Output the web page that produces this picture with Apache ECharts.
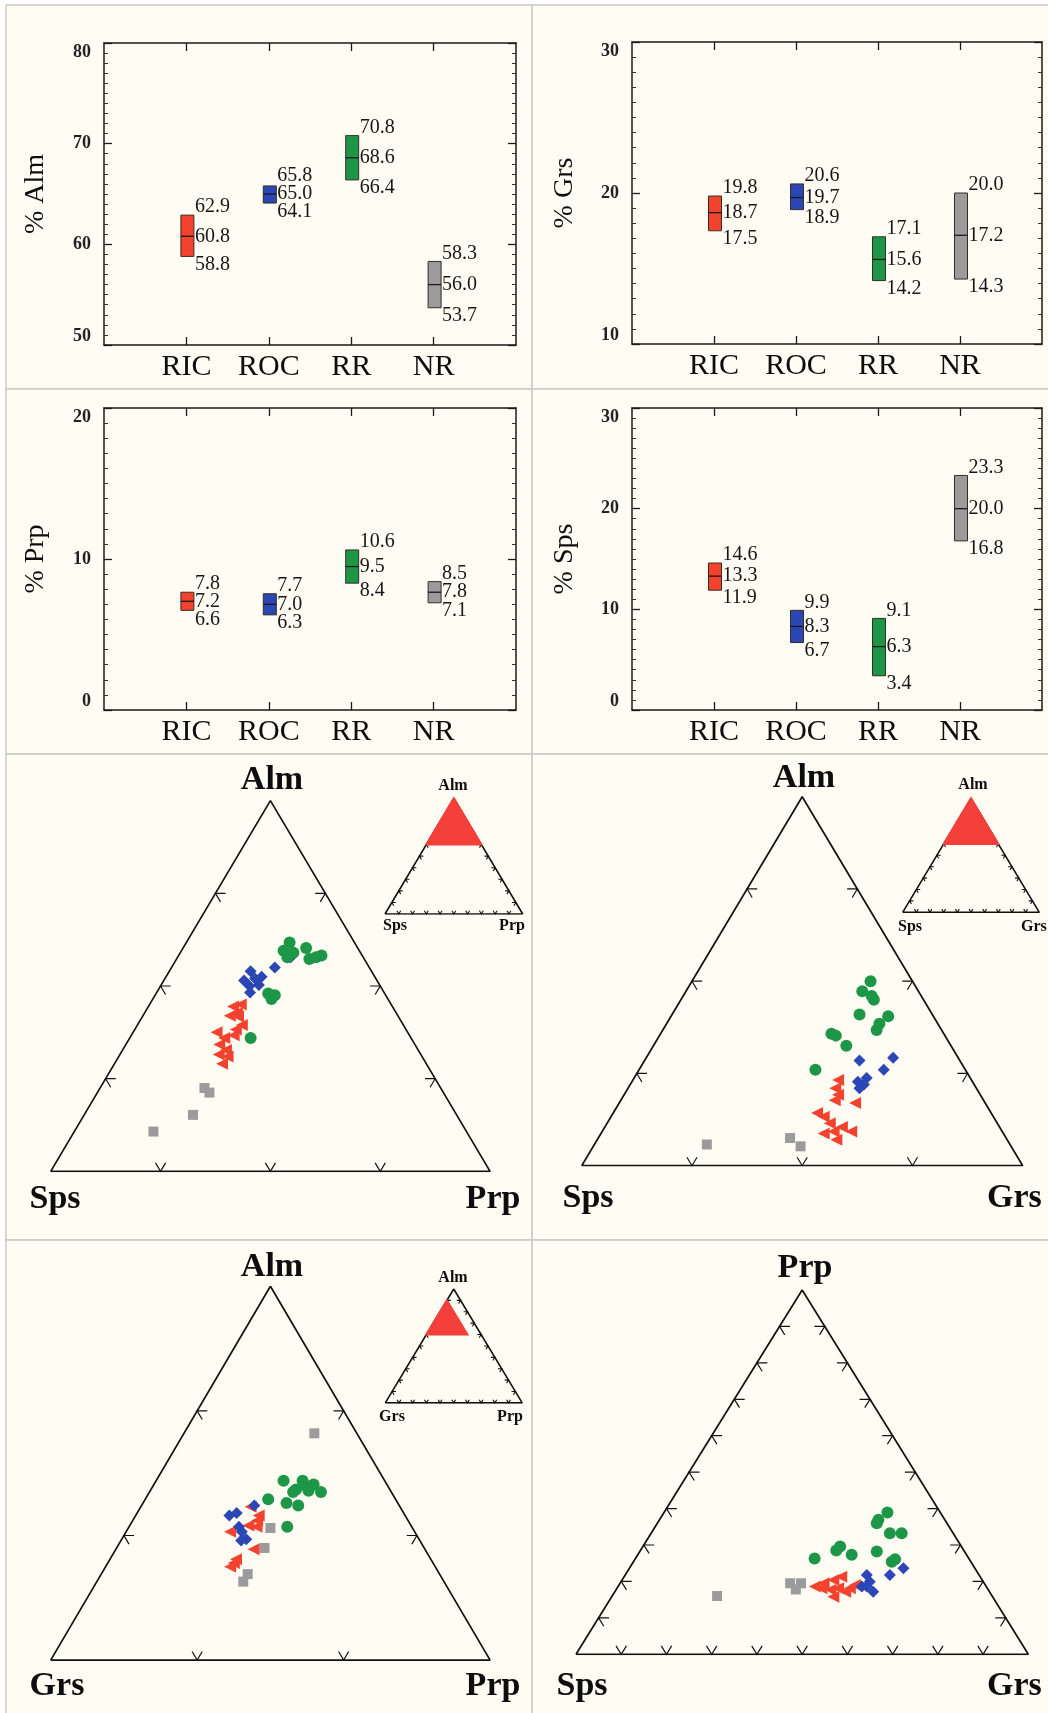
<!DOCTYPE html>
<html>
<head>
<meta charset="utf-8">
<title>Garnet end-members</title>
<style>
  html, body { margin: 0; padding: 0; background: #fff; }
  #main { width: 1048px; height: 1713px; }
</style>
</head>
<body>
<div id="main"></div>
<script src="https://cdn.jsdelivr.net/npm/echarts@6/dist/echarts.min.js"></script>
<script>
// groups and their styles
var groups = ['RIC', 'ROC', 'RR', 'NR'];
var groupColors = ['#f3432f', '#2b46b5', '#1d9747', '#9b9b9b'];
var groupSymbols = ['triangle', 'diamond', 'circle', 'rect'];
var groupSymbolRotate = [90, 0, 0, 0];
var groupSymbolSize = [12, 12, 12, 10];

// box plots : [min, median, max] per group
var almStats = [[58.8, 60.8, 62.9], [64.1, 65.0, 65.8], [66.4, 68.6, 70.8], [53.7, 56.0, 58.3]];
var grsStats = [[17.5, 18.7, 19.8], [18.9, 19.7, 20.6], [14.2, 15.6, 17.1], [14.3, 17.2, 20.0]];
var prpStats = [[6.6, 7.2, 7.8], [6.3, 7.0, 7.7], [8.4, 9.5, 10.6], [7.1, 7.8, 8.5]];
var spsStats = [[11.9, 13.3, 14.6], [6.7, 8.3, 9.9], [3.4, 6.3, 9.1], [16.8, 20.0, 23.3]];

// ternary Alm - Sps - Prp  [Alm, Sps, Prp]
var aspRIC = [[77.8,14.5,7.7],[78.0,13.7,8.3],[77.1,14.5,8.4],[76.8,15.3,7.9],[75.8,14.7,9.5],[75.3,15.5,9.2],[75.0,17.4,7.6],[74.4,17.0,8.6],[74.7,16.0,9.3],[73.7,17.8,8.5],[73.1,17.5,9.4],[72.6,18.4,9.0],[72.4,17.7,9.9],[71.6,18.6,9.8],[76.7,14.6,8.7]];
var aspROC = [[81.6,11.0,7.4],[80.6,12.1,7.3],[80.8,11.0,8.2],[81.0,10.3,8.7],[80.0,11.9,8.1],[80.1,11.0,8.9],[79.3,12.2,8.5],[82.0,8.6,9.4],[83.1,6.6,10.3]];
var aspRR = [[84.7,5.9,9.4],[83.8,6.9,9.3],[83.1,6.9,10.0],[83.6,6.1,10.3],[84.1,4.7,11.2],[82.9,5.0,12.1],[83.1,4.3,12.6],[83.3,3.7,13.0],[79.2,10.6,10.2],[79.0,10.1,10.9],[78.6,10.6,10.8],[74.4,14.6,11.0]];
var aspNR = [[69.0,21.5,9.5],[68.5,21.3,10.2],[66.1,24.0,9.9],[64.3,28.5,7.2]];

// ternary Alm - Sps - Grs  [Alm, Sps, Grs]
var asgRIC = [[69.3,12.1,18.6],[68.4,12.8,18.8],[67.7,12.9,19.4],[67.1,13.5,19.4],[66.8,11.8,21.4],[65.7,15.8,18.5],[65.3,15.4,19.3],[64.6,15.2,20.2],[63.5,16.3,20.2],[63.7,15.3,21.0],[63.7,13.7,22.6],[62.8,15.5,21.7],[64.2,14.3,21.5]];
var asgROC = [[71.4,9.1,19.5],[71.7,5.9,22.4],[70.4,7.4,22.2],[69.5,9.4,21.1],[69.1,10.4,20.5],[68.8,10.0,21.2],[68.4,10.6,21.0]];
var asgRR = [[80.0,3.8,16.2],[78.9,5.1,16.0],[78.4,4.5,17.1],[78.0,4.5,17.5],[76.4,6.6,17.0],[76.2,4.1,19.7],[75.4,5.3,19.3],[74.7,5.9,19.4],[74.3,10.2,15.5],[74.1,9.9,16.0],[73.0,9.5,17.5],[70.4,13.6,16.0]];
var asgNR = [[62.3,27.5,10.2],[63.0,19.6,17.4],[62.1,19.1,18.8]];

// ternary Alm - Grs - Prp  [Alm, Grs, Prp]
var agpRIC = [[72.3,20.2,7.5],[71.6,20.0,8.4],[70.7,20.6,8.7],[70.3,22.6,7.1],[70.8,21.1,8.1],[68.9,21.7,9.4],[68.1,23.3,8.6],[67.5,24.0,8.5],[67.8,23.6,8.6],[71.2,20.3,8.5]];
var agpROC = [[72.4,19.9,7.7],[71.8,21.4,6.8],[71.6,22.0,6.4],[70.7,21.8,7.5],[70.3,21.8,7.9],[69.7,21.8,8.5],[69.6,22.2,8.2]];
var agpRR = [[74.4,16.9,8.7],[74.4,15.6,10.0],[73.7,16.4,9.9],[74.0,15.6,10.4],[74.1,15.0,10.9],[73.5,14.8,11.7],[73.6,15.6,10.8],[73.5,16.7,9.8],[72.9,18.7,8.4],[72.6,17.6,9.8],[72.4,16.9,10.7],[70.7,18.5,10.8]];
var agpNR = [[78.2,12.9,8.9],[70.6,19.7,9.7],[69.0,20.9,10.1],[66.9,23.1,10.0],[66.3,23.7,10.0]];

// ternary Prp - Sps - Grs  [Prp, Sps, Grs]
var psgRIC = [[18.6,37.9,43.5],[19.5,35.5,45.0],[20.4,32.9,46.7],[21.3,30.7,48.0],[17.7,34.9,47.4],[18.1,33.0,48.9],[18.1,30.4,51.5],[15.8,35.2,49.0],[17.2,31.9,50.9],[18.1,36.7,45.2],[19.0,28.8,52.2]];
var psgROC = [[23.6,15.8,60.6],[21.8,19.7,58.5],[21.8,24.8,53.4],[19.9,25.1,55.0],[18.6,27.5,53.9],[17.2,25.7,57.1],[18.6,26.4,55.0]];
var psgRR = [[38.9,11.7,49.4],[36.9,14.7,48.4],[36.0,15.5,48.5],[33.2,14.0,52.8],[33.2,11.4,55.4],[29.6,26.8,43.6],[28.5,28.2,43.3],[27.3,25.4,47.3],[28.2,19.4,52.4],[26.3,34.1,39.6],[26.1,16.4,57.5],[25.4,17.5,57.1]];
var psgNR = [[16.0,60.8,23.2],[19.5,42.9,37.6],[17.8,42.5,39.7],[19.5,40.5,40.0]];

// corners of the plotted window, [top, left, right] compositions
var FULL = [[100, 0, 0], [0, 100, 0], [0, 0, 100]];
var almWindow = [[100, 0, 0], [60, 40, 0], [60, 0, 40]];
var almGrsWindow = [[90, 10, 0], [60, 40, 0], [60, 10, 30]];

var serif = "'Liberation Serif', 'DejaVu Serif', serif";

var boxPanels = [
  { name: '% Alm', stats: almStats, min: 50, max: 80, grid: { left: 104, top: 43, width: 412, height: 302 }, nameGap: 54 },
  { name: '% Grs', stats: grsStats, min: 10, max: 30, grid: { left: 632, top: 42, width: 410, height: 302 }, nameGap: 53 },
  { name: '% Prp', stats: prpStats, min: 0, max: 20, grid: { left: 104, top: 408, width: 412, height: 302 }, nameGap: 54 },
  { name: '% Sps', stats: spsStats, min: 0, max: 30, grid: { left: 632, top: 408, width: 410, height: 302 }, nameGap: 53 }
];

var ternaryPanels = [
  { grid: { left: 50.7, top: 800.6, width: 439.4, height: 370.8 }, win: almWindow, sets: [aspRIC, aspROC, aspRR, aspNR], ticks: [0.25, 0.5, 0.75],
    labels: [['Alm', 272, 780, 'center'], ['Sps', 55, 1199, 'center'], ['Prp', 493, 1199, 'center']],
    inset: { grid: { left: 385, top: 798.3, width: 137.7, height: 115.7 },
      labels: [['Alm', 453, 786, 'center'], ['Sps', 395, 926, 'center'], ['Prp', 512, 926, 'center']] } },
  { grid: { left: 581.7, top: 796.7, width: 441, height: 369 }, win: almWindow, sets: [asgRIC, asgROC, asgRR, asgNR], ticks: [0.25, 0.5, 0.75],
    labels: [['Alm', 804, 778, 'center'], ['Sps', 588, 1198, 'center'], ['Grs', 987, 1198, 'left']],
    inset: { grid: { left: 902.7, top: 798.3, width: 136.6, height: 114 },
      labels: [['Alm', 973, 785, 'center'], ['Sps', 910, 927, 'center'], ['Grs', 1021, 927, 'left']] } },
  { grid: { left: 50.7, top: 1286.3, width: 439.4, height: 373.8 }, win: almGrsWindow, sets: [agpRIC, agpROC, agpRR, agpNR], ticks: [1 / 3, 2 / 3],
    labels: [['Alm', 272, 1267, 'center'], ['Grs', 57, 1686, 'center'], ['Prp', 493, 1686, 'center']],
    inset: { grid: { left: 385.3, top: 1289, width: 136.9, height: 113.9 },
      labels: [['Alm', 453, 1278, 'center'], ['Grs', 392, 1417, 'center'], ['Prp', 510, 1417, 'center']] } },
  { grid: { left: 576, top: 1290, width: 452.3, height: 364.3 }, win: FULL, sets: [psgRIC, psgROC, psgRR, psgNR], ticks: [0.1, 0.2, 0.3, 0.4, 0.5, 0.6, 0.7, 0.8, 0.9],
    labels: [['Prp', 805, 1268, 'center'], ['Sps', 582, 1686, 'center'], ['Grs', 987, 1686, 'left']] }
];

// ---- ternary helpers ----
function det(a, b, c) {
  return a[0] * (b[1] * c[2] - c[1] * b[2]) - b[0] * (a[1] * c[2] - c[1] * a[2]) + c[0] * (a[1] * b[2] - b[1] * a[2]);
}
// barycentric weights of composition c inside the window V = [top, left, right]
function weights(c, V) {
  var D = det(V[0], V[1], V[2]);
  return [det(c, V[1], V[2]) / D, det(V[0], c, V[2]) / D, det(V[0], V[1], c) / D];
}
function toXY(w) { return [w[2] + 0.5 * w[0], w[0]]; }

// chevron ticks on the three sides: arms parallel to the other two sides
function chevrons(fracs, s) {
  var L = toXY([0, 1, 0]), R = toXY([0, 0, 1]), T = toXY([1, 0, 0]);
  var out = [];
  [[L, T, R], [R, T, L], [L, R, T]].forEach(function (e) {
    var a = e[0], b = e[1], o = e[2];
    fracs.forEach(function (f) {
      var p = [a[0] + f * (b[0] - a[0]), a[1] + f * (b[1] - a[1])];
      out.push([p[0], p[1], s * (o[0] - a[0]), s * (o[1] - a[1]), s * (o[0] - b[0]), s * (o[1] - b[1])]);
    });
  });
  return out;
}

var chart = echarts.init(document.getElementById('main'));
var grids = [], xAxes = [], yAxes = [], series = [], graphics = [];

// panel backgrounds
[[6, 5, 526, 384], [532, 5, 520, 384], [6, 389, 526, 365], [532, 389, 520, 365],
 [6, 754, 526, 486], [532, 754, 520, 486], [6, 1240, 526, 480], [532, 1240, 520, 480]].forEach(function (r) {
  graphics.push({ type: 'rect', z: -10, shape: { x: r[0], y: r[1], width: r[2], height: r[3] },
    style: { fill: '#fffdf3', stroke: '#c9c9c6', lineWidth: 1.5 } });
});

function addText(t, x, y, size, align) {
  graphics.push({ type: 'text', x: x, y: y, z: 50,
    style: { text: t, fontFamily: serif, fontWeight: 'bold', fontSize: size, fill: '#0d0d0d', align: align, verticalAlign: 'middle' } });
}

// ---- box panels ----
boxPanels.forEach(function (p) {
  var gi = grids.length;
  grids.push(p.grid);
  var xi = xAxes.length, yi = yAxes.length;
  var frameLine = { onZero: false, lineStyle: { color: '#1a1a1a', width: 1.5 } };
  [false, true].forEach(function (top) {
    xAxes.push({
      type: 'value', gridIndex: gi, min: 0, max: 5, position: top ? 'top' : 'bottom',
      splitLine: { show: false }, axisLine: frameLine,
      axisTick: { inside: true, length: 8, customValues: [1, 2, 3, 4], lineStyle: { color: '#1a1a1a', width: 1.3 } },
      axisLabel: top ? { show: false } : {
        customValues: [1, 2, 3, 4], formatter: function (v) { return groups[v - 1]; },
        fontFamily: serif, fontSize: 30, color: '#0d0d0d', margin: 7
      }
    });
  });
  [false, true].forEach(function (right) {
    yAxes.push({
      type: 'value', gridIndex: gi, min: p.min, max: p.max, interval: 10, position: right ? 'right' : 'left',
      name: right ? '' : p.name, nameLocation: 'middle', nameGap: p.nameGap, nameRotate: 90,
      nameTextStyle: { fontFamily: serif, fontSize: 28, color: '#0d0d0d' },
      splitLine: { show: false }, axisLine: frameLine,
      axisTick: { inside: true, length: 8, lineStyle: { color: '#1a1a1a', width: 1.3 } },
      minorTick: { show: true, splitNumber: 10, length: 4, lineStyle: { color: '#333' } },
      axisLabel: right ? { show: false } : {
        fontFamily: serif, fontWeight: 'bold', fontSize: 18, color: '#222', margin: 13,
        verticalAlignMaxLabel: 'top', verticalAlignMinLabel: 'bottom'
      }
    });
  });
  series.push({
    type: 'custom', xAxisIndex: xi, yAxisIndex: yi, clip: false,
    encode: { x: 0, y: [1, 2, 3] },
    data: p.stats.map(function (s, i) { return [i + 1, s[0], s[1], s[2]]; }),
    renderItem: function (params, api) {
      var x = api.value(0), lo = api.value(1), md = api.value(2), hi = api.value(3);
      var pHi = api.coord([x, hi]), pLo = api.coord([x, lo]), pMd = api.coord([x, md]);
      var cx = pHi[0] + 1, w = 13;
      var tTop = Math.min(pHi[1] - 8, pMd[1] - 18);
      var tBot = Math.max(pLo[1] + 8, pMd[1] + 18);
      function txt(v, y) {
        return { type: 'text', x: cx + w / 2 + 1, y: y,
          style: { text: v.toFixed(1), fontFamily: serif, fontSize: 20, fill: '#161616', align: 'left', verticalAlign: 'middle' } };
      }
      return { type: 'group', children: [
        { type: 'rect', shape: { x: cx - w / 2, y: pHi[1], width: w, height: pLo[1] - pHi[1] },
          style: { fill: groupColors[params.dataIndex], stroke: '#3b2a22', lineWidth: 1 } },
        { type: 'line', shape: { x1: cx - w / 2, y1: pMd[1], x2: cx + w / 2, y2: pMd[1] },
          style: { stroke: '#1a1a1a', lineWidth: 1.3 } },
        txt(hi, tTop), txt(md, pMd[1]), txt(lo, tBot)
      ] };
    }
  });
});

// ---- ternary panels ----
function addTernaryGrid(g) {
  var gi = grids.length;
  grids.push(g);
  xAxes.push({ type: 'value', gridIndex: gi, min: 0, max: 1, show: false });
  yAxes.push({ type: 'value', gridIndex: gi, min: 0, max: 1, show: false });
  return [xAxes.length - 1, yAxes.length - 1];
}
function frameSeries(ax, width) {
  var corners = [[0, 1, 0], [0, 0, 1], [1, 0, 0], [0, 1, 0]].map(toXY);
  return { type: 'line', xAxisIndex: ax[0], yAxisIndex: ax[1], data: corners, symbol: 'none', silent: true,
    lineStyle: { color: '#111', width: width }, z: 3 };
}
function tickSeries(ax, fracs, s, width) {
  return { type: 'custom', xAxisIndex: ax[0], yAxisIndex: ax[1], silent: true, z: 3,
    data: chevrons(fracs, s),
    renderItem: function (params, api) {
      var x = api.value(0), y = api.value(1);
      var p = api.coord([x, y]);
      var a = api.coord([x + api.value(2), y + api.value(3)]);
      var b = api.coord([x + api.value(4), y + api.value(5)]);
      return { type: 'polyline', shape: { points: [a, p, b] }, style: { stroke: '#111', lineWidth: width, fill: null } };
    } };
}

ternaryPanels.forEach(function (tp) {
  var ax = addTernaryGrid(tp.grid);
  series.push(frameSeries(ax, 1.7));
  series.push(tickSeries(ax, tp.ticks, 0.023, 1.2));
  // draw NR first, RR last
  [3, 0, 1, 2].forEach(function (k) {
    series.push({
      type: 'scatter', xAxisIndex: ax[0], yAxisIndex: ax[1], z: 5, name: groups[k],
      symbol: groupSymbols[k], symbolSize: groupSymbolSize[k], symbolRotate: groupSymbolRotate[k],
      itemStyle: { color: groupColors[k], opacity: 1 },
      data: tp.sets[k].map(function (c) { return toXY(weights(c, tp.win)); })
    });
  });
  tp.labels.forEach(function (l) { addText(l[0], l[1], l[2], 34, l[3]); });

  if (tp.inset) {
    var ia = addTernaryGrid(tp.inset.grid);
    series.push(frameSeries(ia, 1.6));
    series.push(tickSeries(ia, [0.1, 0.2, 0.3, 0.4, 0.5, 0.6, 0.7, 0.8, 0.9], 0.028, 1.1));
    var win = tp.win.map(function (v) { return toXY(weights(v, FULL)); });
    series.push({
      type: 'custom', xAxisIndex: ia[0], yAxisIndex: ia[1], silent: true, z: 4,
      encode: { x: [0, 2, 4], y: [1, 3, 5] },
      data: [[win[0][0], win[0][1], win[1][0], win[1][1], win[2][0], win[2][1]]],
      renderItem: function (params, api) {
        var pts = [0, 2, 4].map(function (d) { return api.coord([api.value(d), api.value(d + 1)]); });
        return { type: 'polygon', shape: { points: pts }, style: { fill: '#f53f3a', stroke: '#f53f3a', lineWidth: 2 } };
      }
    });
    tp.inset.labels.forEach(function (l) { addText(l[0], l[1], l[2], 16, l[3]); });
  }
});

chart.setOption({
  animation: false,
  backgroundColor: '#ffffff',
  grid: grids,
  xAxis: xAxes,
  yAxis: yAxes,
  series: series,
  graphic: { elements: graphics }
});
</script>
</body>
</html>
